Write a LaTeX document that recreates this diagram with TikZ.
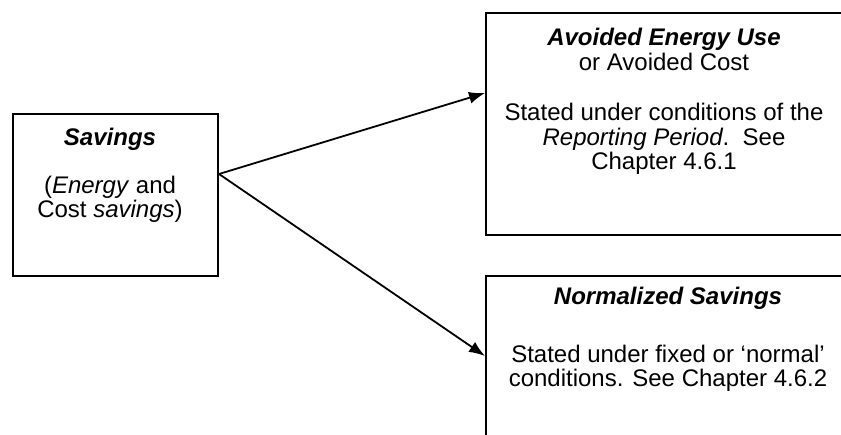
\documentclass[tikz,border=0pt]{standalone}
\usepackage{fontspec}
\setmainfont{Liberation Sans}
\usepackage{tikz}
\usetikzlibrary{positioning,arrows.meta}

\begin{document}
\begin{tikzpicture}[
  x=1pt,y=-1pt,
  font=\fontsize{24}{24.5}\selectfont,
  box/.style={draw,line width=2pt,inner sep=0pt,anchor=north west},
  txt/.style={align=center,inner sep=0pt,anchor=north},
  arr/.style={line width=1.8pt,-{Latex[length=16pt,width=12pt]}},
]
  \useasboundingbox (0,0) rectangle (841,434);

  \node[box,minimum width=205pt,minimum height=162pt] (sav) at (12,113) {};
  \node[box,minimum width=375pt,minimum height=222pt] (avoid) at (485,12) {};
  \node[box,minimum width=375pt,minimum height=185pt] (norm) at (485,275) {};

  \node[txt] (savtxt) at (110,128) {\textbf{\textit{Savings}}\\[23pt]
    (\textit{Energy} and\\ Cost \textit{savings})};
  \node[txt] (avoidtxt) at (664,28) {\textbf{\textit{Avoided Energy Use}}\\ or Avoided Cost\\[26pt]
    Stated under conditions of the\\ \textit{Reporting Period}.\ \ See\\ Chapter 4.6.1};
  \node[txt] (normtxt) at (668,287) {\textbf{\textit{Normalized Savings}}\\[33pt]
    Stated under fixed or `normal'\\ conditions. See Chapter 4.6.2};

  \coordinate (fork) at ([yshift=21pt]sav.east);
  \draw[arr] (fork) -- ([yshift=31pt]avoid.west);
  \draw[arr] (fork) -- ([yshift=12.5pt]norm.west);
\end{tikzpicture}
\end{document}
